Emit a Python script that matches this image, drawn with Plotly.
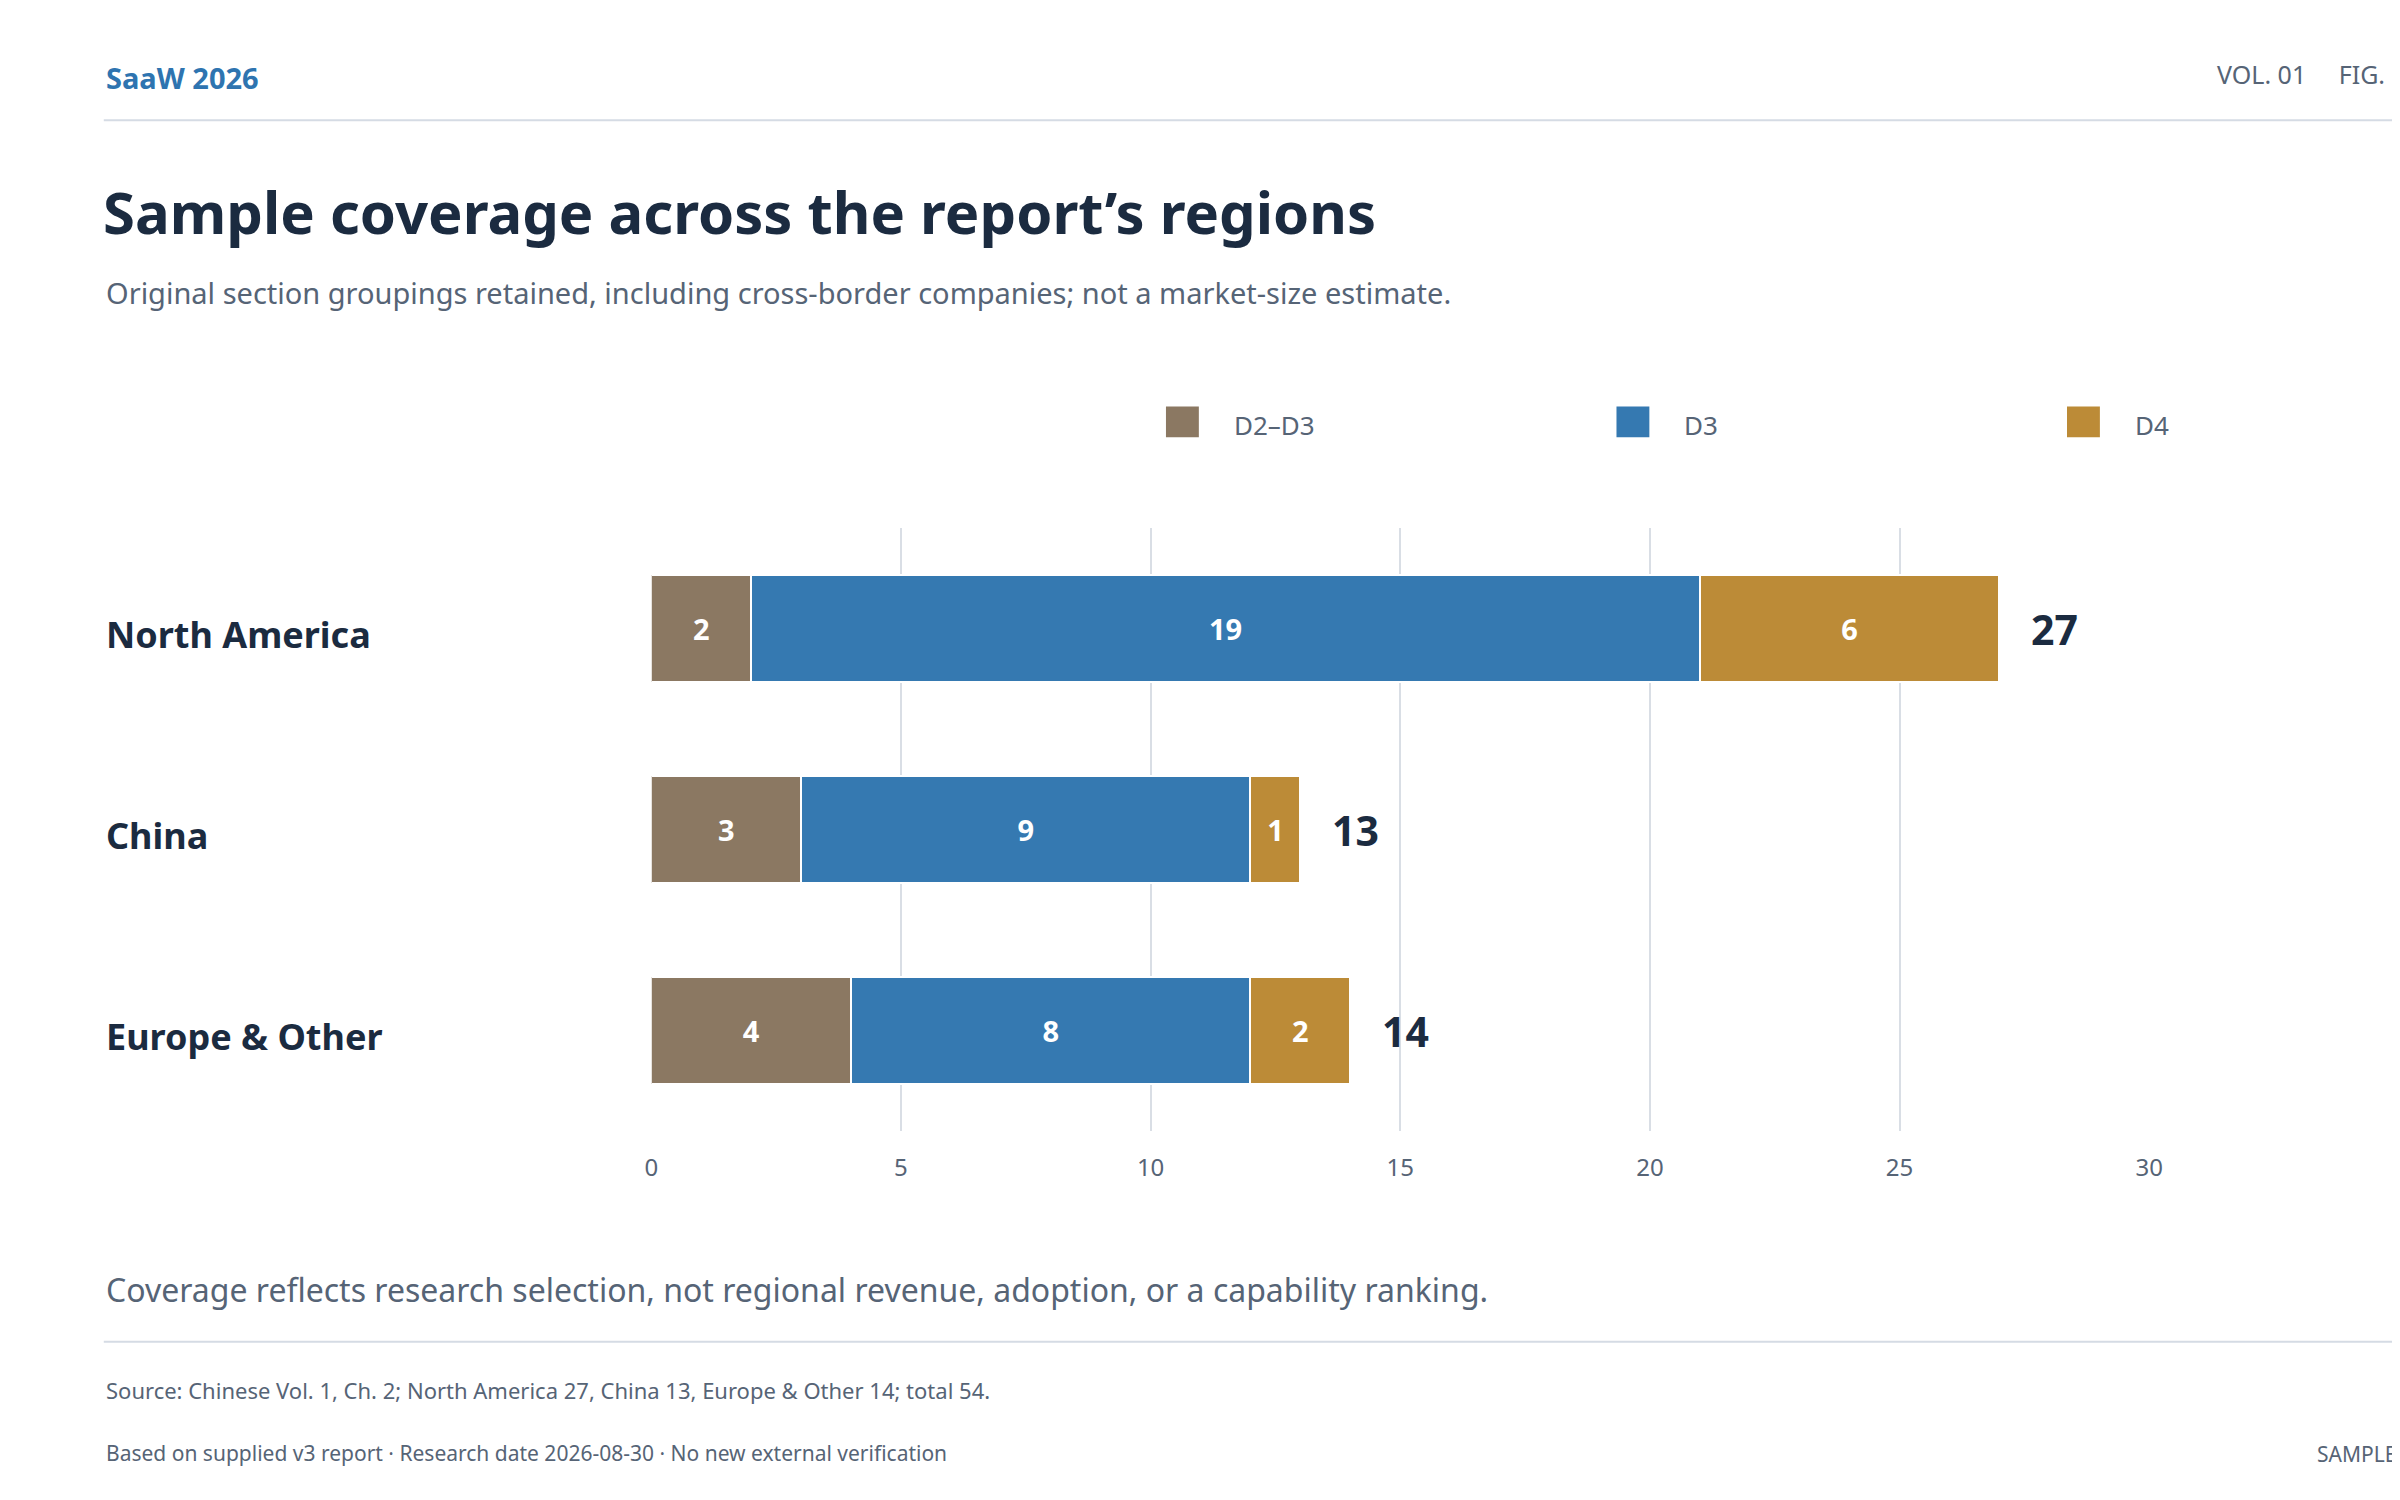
import plotly.graph_objects as go

regions = ["North America", "China", "Europe & Other"]
d2d3 = [2, 3, 4]
d3 = [19, 9, 8]
d4 = [6, 1, 2]
totals = [27, 13, 14]
series_names = ["D2–D3", "D3", "D4"]
colors = ["#8B7862", "#3579B1", "#BC8B37"]
tick_vals = [0, 5, 10, 15, 20, 25, 30]
legend_x = [705, 979, 1253]

W, H = 2586, 1500
def px(x): return (x - 5) / 1560
def py(y): return 1 - (y - 5) / 975

DARK = "#1B2B40"
GREY = "#566476"
FONT = "Noto Sans"

fig = go.Figure()
for name, vals, c in zip(series_names, [d2d3, d3, d4], colors):
    fig.add_trace(go.Bar(
        y=regions, x=vals, name=name, orientation="h", marker=dict(color=c, line=dict(color="white", width=2)),
        text=[str(v) for v in vals], textposition="inside", insidetextanchor="middle",
        textfont=dict(color="white", size=29, family=FONT, weight="bold"),
        width=0.53, hoverinfo="skip", showlegend=False))

ann = []
shapes = []
for r, t in zip(regions, totals):
    ann.append(dict(x=t + 0.6, y=r, xref="x", yref="y", text=f"<b>{t}</b>", showarrow=False,
                    xanchor="left", font=dict(size=41, color=DARK, family=FONT)))
    ann.append(dict(x=px(59), y=r, xref="paper", yref="y", text=f"<b>{r}</b>", showarrow=False,
                    xanchor="left", font=dict(size=36, color=DARK, family=FONT), yshift=-6))

def txt(x, y, t, size, color, anchor="left", bold=False):
    ann.append(dict(x=px(x), y=py(y), xref="paper", yref="paper", text=(f"<b>{t}</b>" if bold else t),
                    showarrow=False, xanchor=anchor, yanchor="middle", font=dict(size=size, color=color, family=FONT)))

for name, c, lx in zip(series_names, colors, legend_x):
    shapes.append(dict(type="rect", xref="paper", yref="paper", x0=px(lx), x1=px(lx + 20),
                       y0=py(284), y1=py(264), fillcolor=c, line=dict(width=0)))
    txt(lx + 40, 276, name, 26, GREY)

txt(59, 50, "SaaW 2026", 29, "#2E74B0", bold=True)
txt(1509, 48, "VOL. 01&nbsp;&nbsp;&nbsp;&nbsp;&nbsp;FIG. 03&nbsp;&nbsp;&nbsp;&nbsp;&nbsp;EN", 25, GREY, anchor="right")
txt(57, 137, "Sample coverage across the report’s regions", 58, DARK, bold=True)
txt(59, 190, "Original section groupings retained, including cross-border companies; not a market-size estimate.", 29, GREY)
txt(59, 838, "Coverage reflects research selection, not regional revenue, adoption, or a capability ranking.", 32, GREY)
txt(59, 903, "Source: Chinese Vol. 1, Ch. 2; North America 27, China 13, Europe &amp; Other 14; total 54.", 22, GREY)
txt(59, 944, "Based on supplied v3 report · Research date 2026-08-30 · No new external verification", 21, GREY)
txt(1509, 945, "SAMPLE COUNTS", 21, GREY, anchor="right")

shapes += [
    dict(type="line", xref="paper", yref="paper", x0=px(59), x1=px(1509), y0=py(78), y1=py(78), line=dict(color="#D5DBE4", width=2)),
    dict(type="line", xref="paper", yref="paper", x0=px(59), x1=px(1509), y0=py(872), y1=py(872), line=dict(color="#D5DBE4", width=2)),
]

fig.update_layout(
    width=W, height=H, margin=dict(l=0, r=0, t=0, b=0),
    paper_bgcolor="white", plot_bgcolor="white", barmode="stack", bargap=0.47,
    font=dict(family=FONT, color=GREY),
    annotations=ann, shapes=shapes,
    xaxis=dict(domain=[px(392), px(1303)], range=[0, 30], tickvals=tick_vals, showgrid=True,
               gridcolor="#D9DEE5", gridwidth=2, zeroline=False, showline=False,
               tickfont=dict(size=24, color=GREY), ticks="", ticklabelstandoff=20),
    yaxis=dict(domain=[py(735), py(343)], autorange="reversed", showticklabels=False, showgrid=False, zeroline=False),
    showlegend=False,
)
fig.write_html("out.html")
